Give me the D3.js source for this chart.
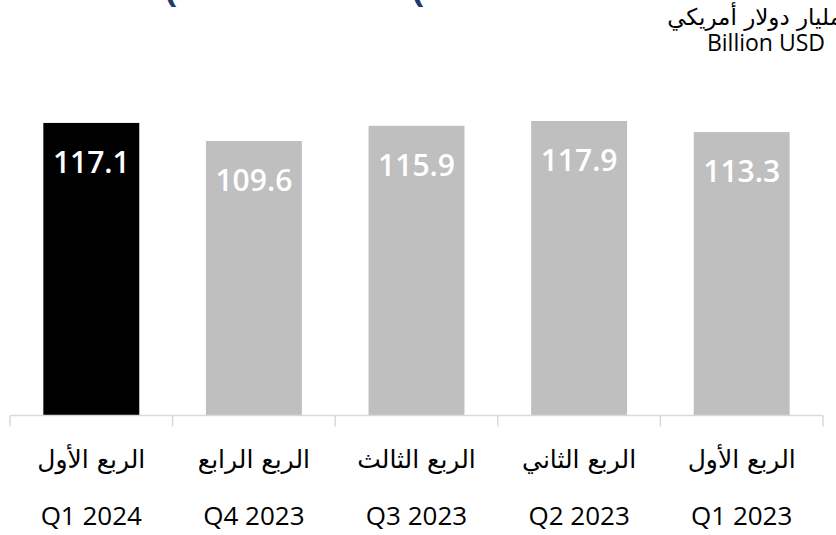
<!DOCTYPE html>
<html>
<head>
<meta charset="utf-8">
<script src="https://cdn.jsdelivr.net/npm/d3@7"></script>
<style>
  html, body { margin: 0; padding: 0; background: #ffffff; }
  svg { display: block; }
</style>
</head>
<body>
<svg id="chart" width="836" height="535"></svg>
<script>
// ---- data ----
const categories = ["Q1 2024", "Q4 2023", "Q3 2023", "Q2 2023", "Q1 2023"];
const arabicLabels = ["الربع الأول", "الربع الرابع", "الربع الثالث", "الربع الثاني", "الربع الأول"];
const values = [117.1, 109.6, 115.9, 117.9, 113.3];
const highlight = ["Q1 2024"];
const unitArabic = "مليار دولار أمريكي";
const unitEnglish = "Billion USD";
const titleFragments = ["(", "("];

// ---- layout ----
const W = 836, H = 535;
const axisY = 415.5;
const svg = d3.select("#chart");

const x = d3.scaleBand().domain(categories).range([10, 823]).padding(0);
const y = d3.scaleLinear().domain([-4.2, 117.9]).range([axisY, 121]);
const barW = x.bandwidth() * 0.59;

// title fragments (cut off at top)
const fragX = d3.scaleOrdinal().domain([0, 1]).range([171, 418]);
svg.selectAll("text.frag").data(titleFragments).enter().append("text")
  .attr("class", "frag")
  .attr("x", (d, i) => fragX(i))
  .attr("y", 1)
  .attr("text-anchor", "middle")
  .attr("font-family", "Open Sans, sans-serif")
  .attr("font-weight", 700)
  .attr("font-size", 38)
  .attr("fill", "#1F3A6E")
  .text(d => d);

// unit labels
svg.append("text")
  .attr("x", 842).attr("y", 25)
  .attr("text-anchor", "start")
  .attr("direction", "rtl")
  .attr("font-family", "DejaVu Sans, sans-serif")
  .attr("font-size", 23)
  .attr("fill", "#000")
  .text(unitArabic);
svg.append("text")
  .attr("x", 825).attr("y", 51)
  .attr("text-anchor", "end")
  .attr("font-family", "Open Sans, sans-serif")
  .attr("font-size", 23)
  .attr("fill", "#000")
  .text(unitEnglish);

// bars
svg.selectAll("rect.bar").data(values).enter().append("rect")
  .attr("class", "bar")
  .attr("x", (d, i) => x(categories[i]) + (x.bandwidth() - barW) / 2)
  .attr("y", d => y(d))
  .attr("width", barW)
  .attr("height", d => axisY - y(d))
  .attr("fill", (d, i) => highlight.includes(categories[i]) ? "#000000" : "#BFBFBF");

// value labels
svg.selectAll("text.val").data(values).enter().append("text")
  .attr("class", "val")
  .attr("x", (d, i) => x(categories[i]) + x.bandwidth() / 2)
  .attr("y", d => y(d) + 50)
  .attr("text-anchor", "middle")
  .attr("font-family", "Open Sans, sans-serif")
  .attr("font-weight", 600)
  .attr("font-size", 30)
  .attr("fill", "#ffffff")
  .text(d => d.toFixed(1));

// axis line and boundary ticks
const axisColor = "#D9D9D9";
svg.append("line")
  .attr("x1", x.range()[0]).attr("x2", x.range()[1])
  .attr("y1", axisY).attr("y2", axisY)
  .attr("stroke", axisColor).attr("stroke-width", 1.5);
const bounds = categories.map(c => x(c)).concat([x.range()[1]]);
svg.selectAll("line.tick").data(bounds).enter().append("line")
  .attr("class", "tick")
  .attr("x1", d => d).attr("x2", d => d)
  .attr("y1", axisY).attr("y2", axisY + 11)
  .attr("stroke", axisColor).attr("stroke-width", 1.5);

// category labels
svg.selectAll("text.ar").data(arabicLabels).enter().append("text")
  .attr("class", "ar")
  .attr("x", (d, i) => x(categories[i]) + x.bandwidth() / 2)
  .attr("y", 468)
  .attr("text-anchor", "middle")
  .attr("direction", "rtl")
  .attr("font-family", "DejaVu Sans, sans-serif")
  .attr("font-size", 25)
  .attr("fill", "#000")
  .text(d => d);
svg.selectAll("text.en").data(categories).enter().append("text")
  .attr("class", "en")
  .attr("x", (d, i) => x(d) + x.bandwidth() / 2)
  .attr("y", 525)
  .attr("text-anchor", "middle")
  .attr("font-family", "Open Sans, sans-serif")
  .attr("font-size", 26)
  .attr("fill", "#000")
  .text(d => d);
</script>
</body>
</html>
